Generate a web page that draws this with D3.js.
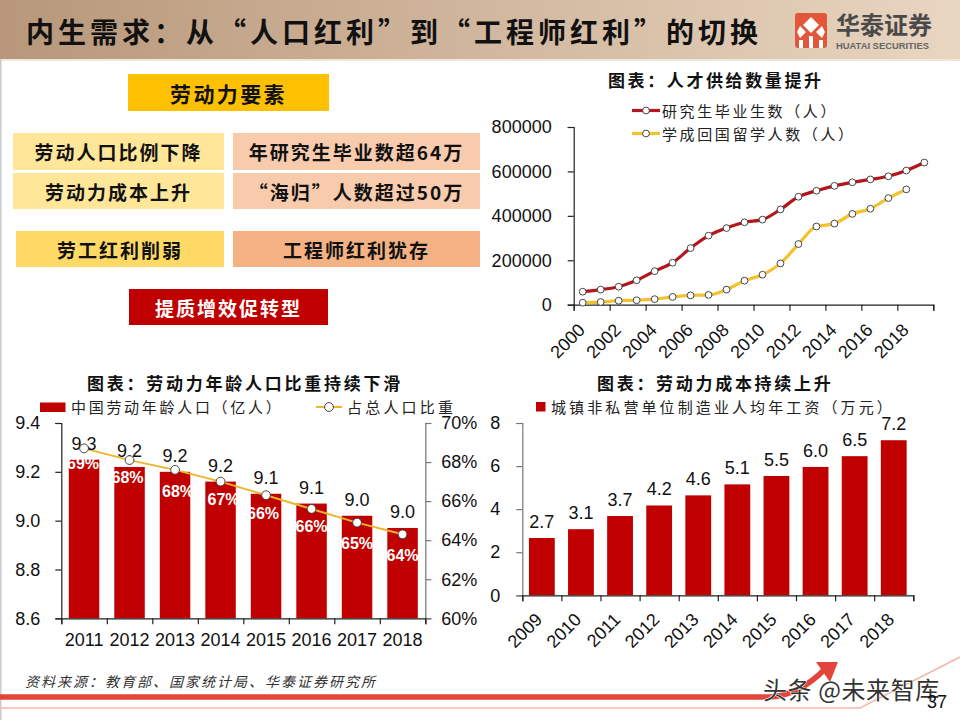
<!DOCTYPE html>
<html lang="zh-CN">
<head>
<meta charset="utf-8">
<script src="https://cdn.jsdelivr.net/npm/d3@7"></script>
<style>
html, body { margin: 0; padding: 0; background: #fff; }
svg { display: block; }
text { font-family: "Liberation Sans", "Noto Sans CJK SC", sans-serif; fill: #111; }
.cjk { font-family: "Noto Sans CJK SC", sans-serif; }
.domain, .tick line { stroke: #222; stroke-width: 1.2; }
.gray .domain, .gray .tick line { stroke: #777; }
.tick text { font-size: 18px; fill: #111; }
</style>
</head>
<body>
<svg id="page" width="960" height="720"></svg>
<script>
// chart values
var supplyYears = d3.range(2000, 2020).map(String);
var graduates = [58500, 68000, 81000, 110000, 151000, 189000, 255000, 311000, 345000, 371000,
	383000, 429000, 486000, 513000, 535000, 551000, 564000, 578000, 604000, 640000];
var returnees = [9000, 12000, 18000, 20000, 25000, 35000, 42000, 44000, 68000, 108000,
	135000, 186000, 273000, 352000, 365000, 409000, 432000, 480000, 519000];
var supplyTicks = [0, 200000, 400000, 600000, 800000];

var laborYears = ["2011", "2012", "2013", "2014", "2015", "2016", "2017", "2018"];
var laborPop = [9.25, 9.22, 9.20, 9.16, 9.11, 9.07, 9.02, 8.97];
var laborShare = [68.7, 68.1, 67.6, 67.0, 66.3, 65.6, 64.9, 64.3];
var laborShareLabels = ["69%", "68%", "68%", "67%", "66%", "66%", "65%", "64%"];
var laborPopLabels = ["9.3", "9.2", "9.2", "9.2", "9.1", "9.1", "9.0", "9.0"];

var wageYears = ["2009", "2010", "2011", "2012", "2013", "2014", "2015", "2016", "2017", "2018"];
var wages = [2.66, 3.07, 3.68, 4.17, 4.64, 5.15, 5.54, 5.96, 6.46, 7.2];
var wageLabels = ["2.7", "3.1", "3.7", "4.2", "4.6", "5.1", "5.5", "6.0", "6.5", "7.2"];

var boxes = [
	{ t: "劳动力要素", x: 128, y: 74, w: 201, h: 37, fill: "#ffc000", size: 21, ls: 2.4 },
	{ t: "劳动人口比例下降", x: 13, y: 133, w: 211, h: 37, fill: "#ffe699", size: 19, ls: 2 },
	{ t: "劳动力成本上升", x: 13, y: 173, w: 211, h: 36, fill: "#ffe699", size: 19, ls: 2 },
	{ t: "年研究生毕业数超64万", x: 233, y: 133, w: 247, h: 37, fill: "#f8cbad", size: 19, ls: 2 },
	{ t: "“海归”人数超过50万", x: 233, y: 173, w: 247, h: 36, fill: "#f8cbad", size: 19, ls: 2 },
	{ t: "劳工红利削弱", x: 16, y: 231, w: 208, h: 36, fill: "#ffd966", size: 19, ls: 2 },
	{ t: "工程师红利犹存", x: 233, y: 231, w: 247, h: 36, fill: "#f4b183", size: 19, ls: 2 },
	{ t: "提质增效促转型", x: 129, y: 289, w: 199, h: 36, fill: "#c00000", size: 19, ls: 2, color: "#fff" }
];

var RED = "#c00000", LINE_RED = "#b3161b", YELLOW = "#f2c230";
var svg = d3.select("#page");

function label(g, str, x, y, size, opts) {
	opts = opts || {};
	return g.append("text").attr("class", "cjk")
		.attr("x", x).attr("y", y)
		.attr("dominant-baseline", "central")
		.attr("text-anchor", opts.anchor || "start")
		.attr("font-size", size)
		.attr("font-weight", opts.weight || 400)
		.attr("font-style", opts.italic ? "italic" : null)
		.style("letter-spacing", (opts.ls || 0) + "px")
		.style("fill", opts.color || "#111")
		.text(str);
}

// slanted year labels, end of the text hangs under the tick
function slant(sel, dx, dy) {
	sel.selectAll("text")
		.attr("x", 0).attr("y", 0).attr("dy", "0.35em")
		.attr("text-anchor", "end")
		.attr("transform", "translate(" + dx + "," + dy + ") rotate(-45)");
}

// page furniture
var defs = svg.append("defs");
var grad = defs.append("linearGradient").attr("id", "head");
grad.append("stop").attr("offset", "0").attr("stop-color", "#b8977a");
grad.append("stop").attr("offset", "1").attr("stop-color", "#e9d6c1");
svg.append("rect").attr("width", 960).attr("height", 59).attr("fill", "url(#head)");
svg.append("rect").attr("y", 59).attr("width", 960).attr("height", 2).attr("fill", "#efe6dc");
svg.append("rect").attr("y", 59).attr("width", 1.5).attr("height", 661).attr("fill", "#ccc");

label(svg, "内生需求\uFF1A从“人口红利”到“工程师红利”的切换", 26, 31, 28, { weight: 700, ls: 4 });

// logo
var logo = svg.append("g");
logo.append("rect").attr("x", 795).attr("y", 13).attr("width", 32).attr("height", 35).attr("rx", 3).attr("fill", "#e2563a");
logo.append("path").attr("fill", "#fff")
	.attr("d", "M811 17 L819 25 L811 33 L803 25 Z M800 26 L806 32 L800 38 L797 32 Z M822 26 L825 32 L822 38 L816 32 Z M799 40 h4 v8 h-4 Z M809 36 h4 v12 h-4 Z M819 40 h4 v8 h-4 Z");
label(logo, "华泰证券", 836, 23, 24, { weight: 700, color: "#4a4a4a" });
logo.append("text").attr("x", 836).attr("y", 48.5).attr("font-size", 9.4).attr("font-weight", 700)
	.style("fill", "#666").text("HUATAI SECURITIES");

// left column boxes
boxes.forEach(function(b) {
	svg.append("rect").attr("x", b.x).attr("y", b.y).attr("width", b.w).attr("height", b.h).attr("fill", b.fill);
	label(svg, b.t, b.x + b.w / 2, b.y + b.h / 2, b.size, { anchor: "middle", weight: 700, ls: b.ls, color: b.color });
});

// talent supply chart
(function() {
	var left = 573.7, right = 933.3, top = 127, bottom = 304.7;
	var x = d3.scaleBand().domain(supplyYears).range([left, right]);
	var edge = d3.scaleLinear().domain([0, 20]).range([left, right]);
	var y = d3.scaleLinear().domain([0, 800000]).range([bottom, top]);
	var g = svg.append("g");

	label(g, "图表\uFF1A人才供给数量提升", 608, 79, 17, { weight: 700, ls: 2.6 });

	g.append("g").attr("transform", "translate(" + left + ",0)")
		.call(d3.axisLeft(y).tickValues(supplyTicks).tickSize(6).tickPadding(16).tickFormat(d3.format("d")));
	g.append("g").attr("transform", "translate(0," + bottom + ")")
		.call(d3.axisBottom(edge).tickValues(d3.range(0, 21, 2)).tickSize(6).tickFormat(""));
	g.append("g").attr("transform", "translate(0," + bottom + ")")
		.call(d3.axisBottom(x).tickValues(supplyYears.filter(function(d, i) { return i % 2 == 0; })).tickSize(0))
		.call(function(a) { a.select(".domain").remove(); })
		.call(slant, -1, 22);

	var series = [
		{ values: graduates, color: LINE_RED },
		{ values: returnees, color: YELLOW }
	];
	var line = d3.line().curve(d3.curveMonotoneX)
		.x(function(d, i) { return x(supplyYears[i]) + x.bandwidth() / 2; })
		.y(function(d) { return y(d); });
	series.forEach(function(s) {
		g.append("path").attr("d", line(s.values)).attr("fill", "none")
			.attr("stroke", s.color).attr("stroke-width", 3.2);
		g.selectAll(null).data(s.values).enter().append("circle")
			.attr("cx", function(d, i) { return x(supplyYears[i]) + x.bandwidth() / 2; })
			.attr("cy", function(d) { return y(d); })
			.attr("r", 3.4).attr("fill", "#fff").attr("stroke", "#333").attr("stroke-width", 0.9);
	});

	// legend
	var names = ["研究生毕业生数\uFF08人\uFF09", "学成回国留学人数\uFF08人\uFF09"];
	names.forEach(function(n, i) {
		var ly = 110.5 + i * 23;
		g.append("line").attr("x1", 632).attr("x2", 660).attr("y1", ly).attr("y2", ly)
			.attr("stroke", series[i].color).attr("stroke-width", 3.2);
		g.append("circle").attr("cx", 646).attr("cy", ly).attr("r", 3.4)
			.attr("fill", "#fff").attr("stroke", "#333").attr("stroke-width", 0.9);
		label(g, n, 662, ly, 15, { ls: 2.6, color: "#222" });
	});
})();

// working age population chart
(function() {
	var left = 61.3, right = 425.3, top = 423, bottom = 618.3;
	var x = d3.scaleBand().domain(laborYears).range([left, right]).paddingInner(0.33).paddingOuter(0.165);
	var edge = d3.scaleLinear().domain([0, 8]).range([left, right]);
	var y = d3.scaleLinear().domain([8.6, 9.4]).range([bottom, top]);
	var y2 = d3.scaleLinear().domain([60, 70]).range([bottom, top]);
	var cx = function(i) { return x(laborYears[i]) + x.bandwidth() / 2; };
	// the share labels were nudged by hand in the original
	var nudgeX = [-1, -2, 3, 3, -3, 0, 0, 0];
	var nudgeY = [15, 17, 22, 18, 18, 18, 21, 21];
	var g = svg.append("g");

	label(g, "图表\uFF1A劳动力年龄人口比重持续下滑", 87, 382, 17, { weight: 700, ls: 2.75 });

	g.selectAll(null).data(laborPop).enter().append("rect")
		.attr("x", function(d, i) { return x(laborYears[i]); })
		.attr("y", function(d) { return y(d); })
		.attr("width", x.bandwidth())
		.attr("height", function(d) { return bottom - y(d); })
		.attr("fill", RED);

	g.append("g").attr("transform", "translate(" + left + ",0)")
		.call(d3.axisLeft(y).ticks(4).tickSize(6).tickPadding(15).tickFormat(d3.format(".1f")));
	g.append("g").attr("class", "gray").attr("transform", "translate(" + right + ",0)")
		.call(d3.axisRight(y2).tickValues([60, 62, 64, 66, 68, 70]).tickSize(6).tickPadding(10).tickFormat(function(d) { return d + "%"; }));
	g.append("g").attr("transform", "translate(0," + bottom + ")")
		.call(d3.axisBottom(edge).ticks(8).tickSize(6).tickFormat(""));
	g.append("g").attr("transform", "translate(0," + bottom + ")")
		.call(d3.axisBottom(x).tickSize(0).tickPadding(15))
		.call(function(a) { a.select(".domain").remove(); });

	// white share labels inside the bars
	g.selectAll(null).data(laborShare).enter().append("text")
		.attr("x", function(d, i) { return cx(i) + nudgeX[i]; })
		.attr("y", function(d, i) { return y2(d) + nudgeY[i]; })
		.attr("text-anchor", "middle").attr("dominant-baseline", "central")
		.attr("font-size", 16).attr("font-weight", 700)
		.style("fill", "#fff")
		.text(function(d, i) { return laborShareLabels[i]; });

	var line = d3.line().x(function(d, i) { return cx(i); }).y(function(d) { return y2(d); });
	g.append("path").attr("d", line(laborShare)).attr("fill", "none")
		.attr("stroke", "#eeb52c").attr("stroke-width", 2);
	g.selectAll(null).data(laborPop).enter().append("text")
		.attr("x", function(d, i) { return cx(i); })
		.attr("y", function(d) { return y(d) - 16; })
		.attr("text-anchor", "middle").attr("dominant-baseline", "central")
		.attr("font-size", 18)
		.text(function(d, i) { return laborPopLabels[i]; });
	g.selectAll(null).data(laborShare).enter().append("circle")
		.attr("cx", function(d, i) { return cx(i); })
		.attr("cy", function(d) { return y2(d); })
		.attr("r", 4.4).attr("fill", "#fff").attr("stroke", "#333").attr("stroke-width", 0.9);

	// legend
	g.append("rect").attr("x", 40).attr("y", 402.5).attr("width", 25.5).attr("height", 9.5).attr("fill", RED);
	label(g, "中国劳动年龄人口\uFF08亿人\uFF09", 71, 406.5, 15, { ls: 2.7, color: "#222" });
	g.append("line").attr("x1", 316).attr("x2", 342).attr("y1", 407).attr("y2", 407)
		.attr("stroke", "#eeb52c").attr("stroke-width", 2);
	g.append("circle").attr("cx", 329).attr("cy", 407).attr("r", 4.4)
		.attr("fill", "#fff").attr("stroke", "#333").attr("stroke-width", 0.9);
	label(g, "占总人口比重", 347, 406.5, 15, { ls: 3.2, color: "#222" });
})();

// labour cost chart
(function() {
	var left = 522.3, right = 913.3, top = 423, bottom = 595.3;
	var x = d3.scaleBand().domain(wageYears).range([left, right]).paddingInner(0.34).paddingOuter(0.17);
	var edge = d3.scaleLinear().domain([0, 10]).range([left, right]);
	var y = d3.scaleLinear().domain([0, 8]).range([bottom, top]);
	var g = svg.append("g");

	label(g, "图表\uFF1A劳动力成本持续上升", 597, 382, 17, { weight: 700, ls: 2.7 });

	g.selectAll(null).data(wages).enter().append("rect")
		.attr("x", function(d, i) { return x(wageYears[i]); })
		.attr("y", function(d) { return y(d); })
		.attr("width", x.bandwidth())
		.attr("height", function(d) { return bottom - y(d); })
		.attr("fill", RED);

	g.selectAll(null).data(wages).enter().append("text")
		.attr("x", function(d, i) { return x(wageYears[i]) + x.bandwidth() / 2; })
		.attr("y", function(d) { return y(d) - 16; })
		.attr("text-anchor", "middle").attr("dominant-baseline", "central")
		.attr("font-size", 18)
		.text(function(d, i) { return wageLabels[i]; });

	g.append("g").attr("class", "gray").attr("transform", "translate(" + left + ",0)")
		.call(d3.axisLeft(y).ticks(4).tickSize(6).tickPadding(16));
	g.append("g").attr("transform", "translate(0," + bottom + ")")
		.call(d3.axisBottom(edge).ticks(10).tickSize(6).tickFormat(""));
	g.append("g").attr("transform", "translate(0," + bottom + ")")
		.call(d3.axisBottom(x).tickSize(0))
		.call(function(a) { a.select(".domain").remove(); })
		.call(slant, -3, 21);

	g.append("rect").attr("x", 536).attr("y", 402).attr("width", 9.5).attr("height", 9.5).attr("fill", RED);
	label(g, "城镇非私营单位制造业人均年工资\uFF08万元\uFF09", 551, 406.5, 15, { ls: 3.1, color: "#222" });
})();

// footer
svg.append("path").attr("fill", "none").attr("stroke", "#f2b8a8").attr("stroke-width", 1.6)
	.attr("d", "M0 708 H860 L960 657");
svg.append("path").attr("fill", "none").attr("stroke", "#e2453a").attr("stroke-width", 5.5)
	.attr("d", "M0 697 H770 Q800 695 826 668");
svg.append("path").attr("fill", "#e2453a").attr("d", "M816 662 L838 662 L830 682 Z");
label(svg, "资料来源\uFF1A教育部、国家统计局、华泰证券研究所", 25, 681, 14, { italic: true, ls: 2, color: "#333" });
label(svg, "头条 @未来智库", 763, 688, 24, { color: "#333", ls: 0.6 })
	.style("paint-order", "stroke").style("stroke", "#fff").style("stroke-width", "1px");
svg.append("text").attr("x", 927).attr("y", 708).attr("font-size", 18).text("37");
</script>
</body>
</html>
